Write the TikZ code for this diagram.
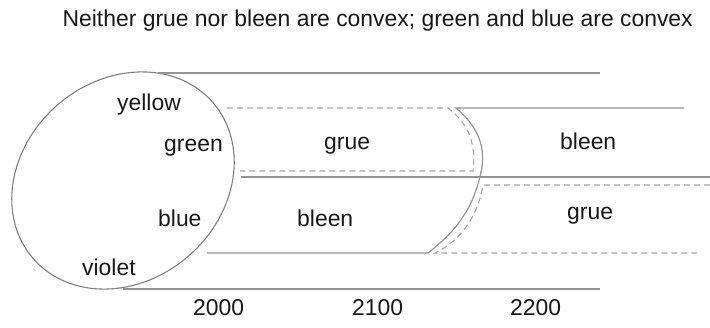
\documentclass[tikz,border=0pt]{standalone}
\usepackage{fontspec}
\setmainfont{Liberation Sans}
\begin{document}
\begin{tikzpicture}[x=1pt,y=-1pt,
  lbl/.style={inner sep=0pt,anchor=base west,font=\fontsize{22.9}{27}\selectfont,text=black!90},
  solidln/.style={draw=black!42,line width=1.2pt},
  dashln/.style={draw=black!35,line width=1.1pt,dash pattern=on 6pt off 4pt},
  blob/.style={draw=black!50,line width=1.1pt}]
\useasboundingbox (0,0) rectangle (710,327);
% title
\node[lbl,anchor=base east] (title) at (693,26) {Neither grue nor bleen are convex; green and blue are convex};
% colour space ellipse
\draw[blob,rotate around={41:(123,180.5)}] (123,180.5) ellipse [x radius=119pt, y radius=100pt];
% solid lines
\draw[solidln] (158,73) -- (600,73);
\draw[solidln] (684,108) -- (456,108) .. controls (480,128) and (486,150) .. (481,172) .. controls (474,205) and (460,228) .. (428,253) -- (207,253);
\draw[solidln] (241,177) -- (710,177);
\draw[solidln] (123,289) -- (600,289);
% dashed (grue / bleen) lines
\draw[dashln] (227,108) -- (448,108) .. controls (470,125) and (476,145) .. (473,171) -- (240,171);
\draw[dashln] (710,185) -- (483,185) .. controls (478,215) and (462,240) .. (435,253) -- (697,253);
% labels
\node[lbl] (yellow) at (117,110) {yellow};
\node[lbl] (green) at (164,151) {green};
\node[lbl] (blue) at (158,226) {blue};
\node[lbl] (violet) at (82,275) {violet};
\node[lbl] (grue1) at (324,149) {grue};
\node[lbl] (bleen1) at (297,226) {bleen};
\node[lbl] (bleen2) at (560,149) {bleen};
\node[lbl] (grue2) at (567,219) {grue};
\node[lbl] (y2000) at (193,315) {2000};
\node[lbl] (y2100) at (352,315) {2100};
\node[lbl] (y2200) at (510,315) {2200};
\end{tikzpicture}
\end{document}
